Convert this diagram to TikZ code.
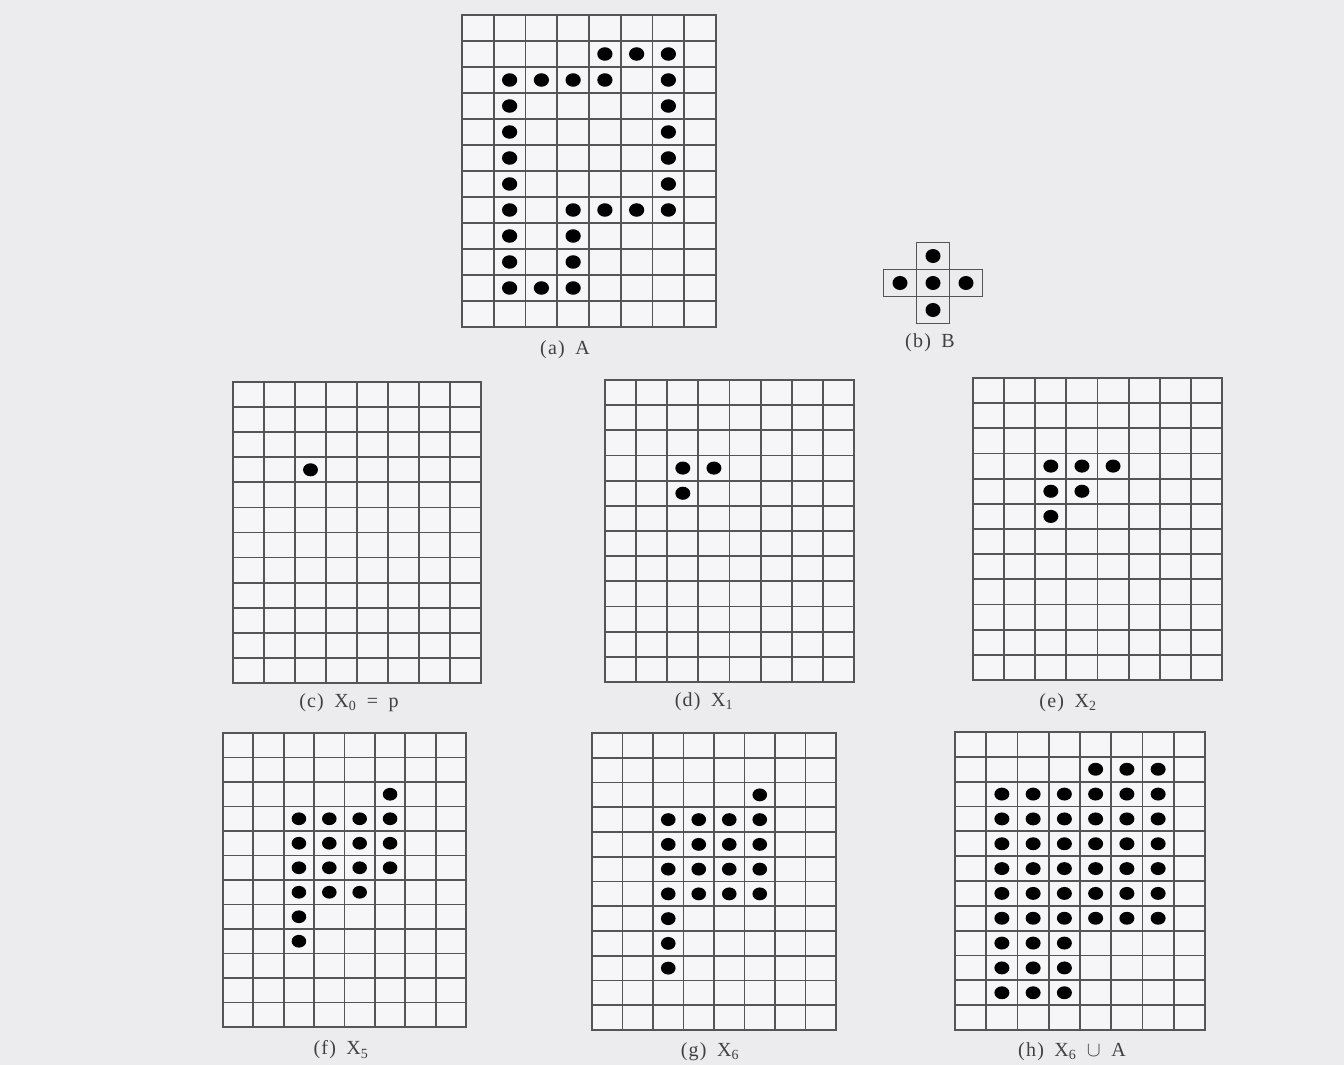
\documentclass[tikz,border=0pt]{standalone}
\usepackage{fontspec}
\usepackage{tikz}
\usepackage{amssymb}
\usepackage{amsmath}
\setmainfont{Liberation Serif}
\newfontfamily\capfont[LetterSpace=6, WordSpace=1.7]{Liberation Serif}

\definecolor{paper}{RGB}{236,235,238}
\definecolor{cell}{RGB}{246,245,247}
\definecolor{ink}{RGB}{85,85,88}

\tikzset{
  gridline/.style={draw=ink, line width=1.8pt},
  frameline/.style={draw=ink, line width=2.2pt},
  dotfill/.style={fill=black},
  caption/.style={text=black!75, font=\capfont\fontsize{20}{22}\selectfont, inner sep=0pt}
}

% 8 x 12 grid between left, top, right, bottom (pixels), dots given as row/col
\newcommand{\dotgrid}[5]{%
  \begin{scope}[shift={(#1,-#2)}, x={({(#3-#1)/8},0)}, y={(0,{(#2-#4)/12})}]
    \fill[cell] (0,0) rectangle (8,12);
    \foreach \i in {1,...,7} \draw[gridline] (\i,0) -- (\i,12);
    \foreach \j in {1,...,11} \draw[gridline] (0,\j) -- (8,\j);
    \draw[frameline] (0,0) rectangle (8,12);
    \foreach \r/\c in {#5}
      \fill[dotfill] (\c+0.5,\r+0.5) ellipse [x radius=0.24, y radius=0.26];
  \end{scope}}

\begin{document}
\begin{tikzpicture}[x=1pt,y=1pt]
\useasboundingbox (0,0) rectangle (1344,-1065);
\fill[paper] (0,0) rectangle (1344,-1065);
% (a) A:
\dotgrid{462}{15}{716}{327}{1/4,1/5,1/6,2/1,2/2,2/3,2/4,2/6,3/1,3/6,4/1,4/6,5/1,5/6,6/1,6/6,
  7/1,7/3,7/4,7/5,7/6,8/1,8/3,9/1,9/3,10/1,10/2,10/3}
\node[caption] (capa) at (565,-350) {(a) A};
% (b) B:
\foreach \dx/\dy in {0/-1,-1/0,0/0,1/0,0/1} {
  \draw[frameline, line width=1.6pt] ({933+33*\dx-16.5},{-283-27*\dy+13.5}) rectangle ({933+33*\dx+16.5},{-283-27*\dy-13.5});
  \fill[dotfill] ({933+33*\dx},{-283-27*\dy}) ellipse [x radius=7.5, y radius=7];
}
\node[caption] (capb) at (930,-343) {(b) B};
% (c) X0 = p:
\dotgrid{233}{382}{481}{683}{3/2}
\node[caption] (capc) at (349,-703) {(c) X\textsubscript{0} = p};
% (d) X1:
\dotgrid{605}{380}{854}{682}{3/2,3/3,4/2}
\node[caption] (capd) at (704,-702) {(d) X\textsubscript{1}};
% (e) X2:
\dotgrid{973}{378}{1222}{680}{3/2,3/3,3/4,4/2,4/3,5/2}
\node[caption] (cape) at (1068,-703) {(e) X\textsubscript{2}};
% (f) X5:
\dotgrid{223}{733}{466}{1027}{2/5,3/2,3/3,3/4,3/5,4/2,4/3,4/4,4/5,5/2,5/3,5/4,5/5,6/2,6/3,6/4,7/2,8/2}
\node[caption] (capf) at (341,-1050) {(f) X\textsubscript{5}};
% (g) X6:
\dotgrid{592}{733}{836}{1030}{2/5,3/2,3/3,3/4,3/5,4/2,4/3,4/4,4/5,5/2,5/3,5/4,5/5,6/2,6/3,6/4,6/5,7/2,8/2,9/2}
\node[caption] (capg) at (710,-1052) {(g) X\textsubscript{6}};
% (h) X6 u A:
\dotgrid{955}{732}{1205}{1030}{1/4,1/5,1/6,2/1,2/2,2/3,2/4,2/5,2/6,3/1,3/2,3/3,3/4,3/5,3/6,
  4/1,4/2,4/3,4/4,4/5,4/6,5/1,5/2,5/3,5/4,5/5,5/6,6/1,6/2,6/3,6/4,6/5,6/6,7/1,7/2,7/3,7/4,7/5,7/6,
  8/1,8/2,8/3,9/1,9/2,9/3,10/1,10/2,10/3}
\node[caption] (caph) at (1072,-1052) {(h) X\textsubscript{6} $\cup$ A};
\end{tikzpicture}
\end{document}
